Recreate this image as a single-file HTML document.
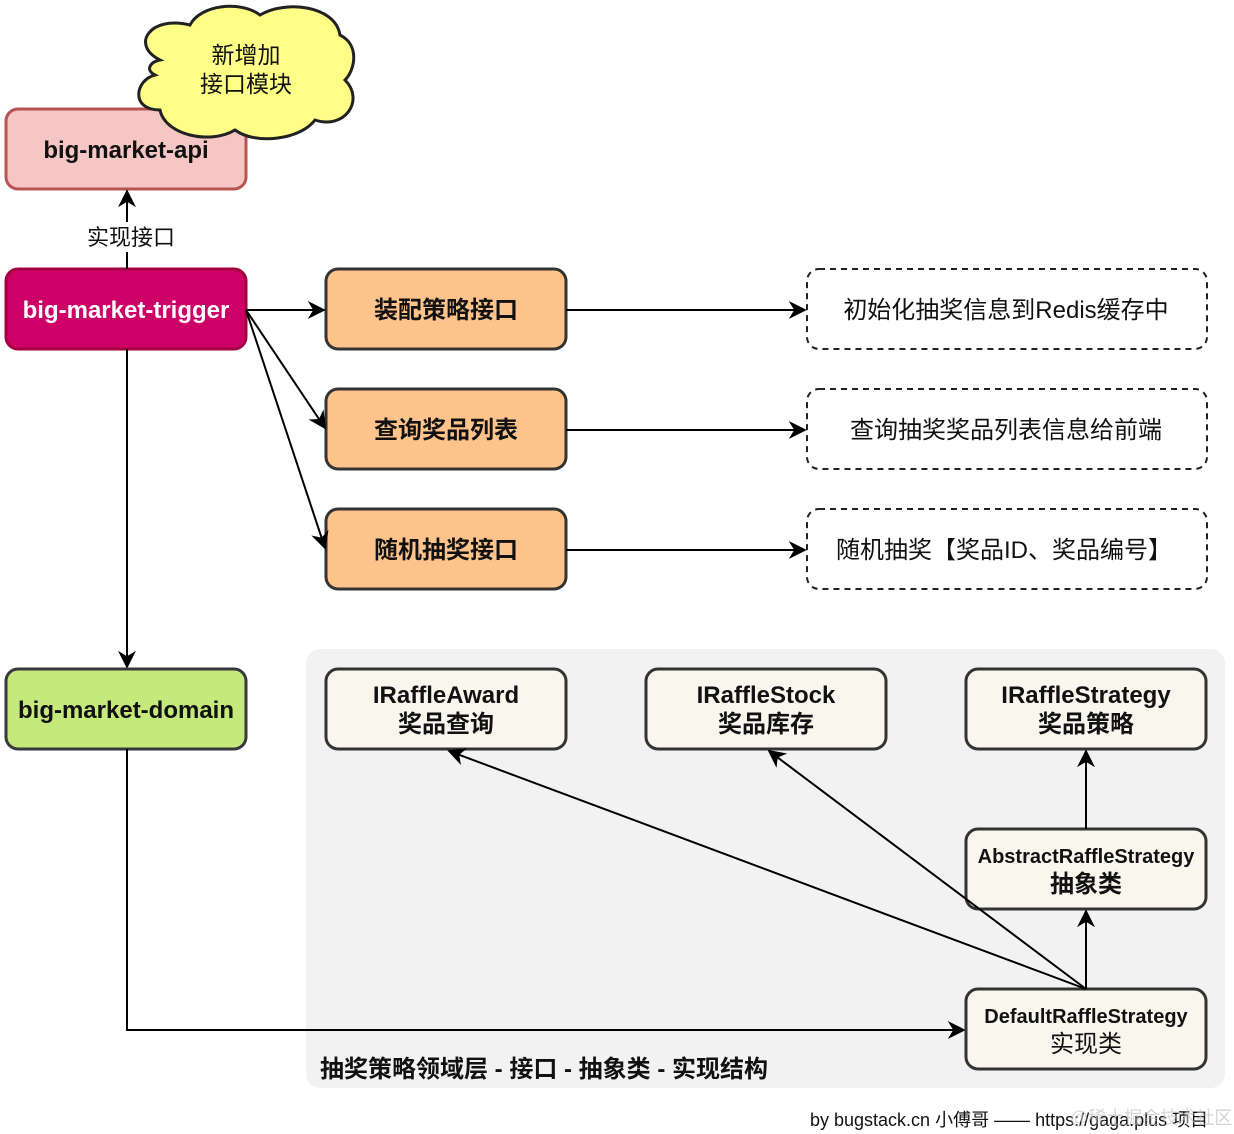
<!DOCTYPE html>
<html><head><meta charset="utf-8"><style>
html,body{margin:0;padding:0;background:#fff;}
svg{display:block;}
text{font-family:"Liberation Sans","Noto Sans CJK SC",sans-serif;}
</style></head><body>
<svg width="1234" height="1134" viewBox="0 0 1234 1134" xmlns="http://www.w3.org/2000/svg">
<defs>
<marker id="b" viewBox="0 0 10 10" refX="9" refY="5" markerWidth="18" markerHeight="18" orient="auto" markerUnits="userSpaceOnUse">
<path d="M0,0 L10,5 L0,10 L3,5 z" fill="#000"/></marker>
</defs>
<rect x="306" y="649" width="919" height="439" rx="14" fill="#f2f2f2"/>
<rect x="6" y="109" width="240" height="80" rx="12" fill="#f5c6c4" stroke="#b85450" stroke-width="3"/>
<text x="126" y="158" font-size="24" font-weight="bold" text-anchor="middle" fill="#111">big-market-api</text>
<path d="M160,60 C130,45 150,15 190,25 C200,5 240,0 260,15 C285,0 335,5 340,35 C360,45 355,70 345,80 C365,100 345,130 315,120 C300,140 255,145 235,130 C210,145 165,135 160,110 C130,110 135,80 155,75 C145,70 150,62 160,60 Z" fill="#ffff88" stroke="#222" stroke-width="3"/>
<text x="246" y="63" font-size="23" text-anchor="middle" fill="#111">新增加</text>
<text x="246" y="92" font-size="23" text-anchor="middle" fill="#111">接口模块</text>
<rect x="6" y="269" width="240" height="80" rx="12" fill="#cc0066" stroke="#a50040" stroke-width="3"/>
<text x="126" y="318" font-size="24" font-weight="bold" text-anchor="middle" fill="#fff">big-market-trigger</text>
<line x1="127" y1="269" x2="127" y2="252" stroke="#000" stroke-width="2"/>
<line x1="127" y1="222" x2="127" y2="191" stroke="#000" stroke-width="2" marker-end="url(#b)"/>
<text x="131" y="245" font-size="22" text-anchor="middle" fill="#111">实现接口</text>
<g stroke="#333" stroke-width="3" fill="#fdc38a">
<rect x="326" y="269" width="240" height="80" rx="12"/>
<rect x="326" y="389" width="240" height="80" rx="12"/>
<rect x="326" y="509" width="240" height="80" rx="12"/>
</g>
<g font-size="24" font-weight="bold" text-anchor="middle" fill="#111">
<text x="446" y="318">装配策略接口</text>
<text x="446" y="438">查询奖品列表</text>
<text x="446" y="558">随机抽奖接口</text>
</g>
<g stroke="#000" stroke-width="2" fill="none">
<line x1="246" y1="310" x2="324" y2="310" marker-end="url(#b)"/>
<line x1="246" y1="310" x2="325" y2="428" marker-end="url(#b)"/>
<line x1="246" y1="310" x2="325" y2="548" marker-end="url(#b)"/>
<line x1="566" y1="310" x2="805" y2="310" marker-end="url(#b)"/>
<line x1="566" y1="430" x2="805" y2="430" marker-end="url(#b)"/>
<line x1="566" y1="550" x2="805" y2="550" marker-end="url(#b)"/>
</g>
<g stroke="#222" stroke-width="2" fill="none" stroke-dasharray="6,5">
<rect x="807" y="269" width="400" height="80" rx="12"/>
<rect x="807" y="389" width="400" height="80" rx="12"/>
<rect x="807" y="509" width="400" height="80" rx="12"/>
</g>
<g font-size="24" text-anchor="middle" fill="#111">
<text x="1006" y="318">初始化抽奖信息到Redis缓存中</text>
<text x="1006" y="438">查询抽奖奖品列表信息给前端</text>
<text x="1004" y="558">随机抽奖【奖品ID、奖品编号】</text>
</g>
<line x1="127" y1="349" x2="127" y2="667" stroke="#000" stroke-width="2" marker-end="url(#b)"/>
<rect x="6" y="669" width="240" height="80" rx="12" fill="#c6e97c" stroke="#36393d" stroke-width="3"/>
<text x="126" y="718" font-size="24" font-weight="bold" text-anchor="middle" fill="#111">big-market-domain</text>
<polyline points="127,749 127,1030 964,1030" fill="none" stroke="#000" stroke-width="2" marker-end="url(#b)"/>
<g stroke="#333" stroke-width="3" fill="#f9f7ed">
<rect x="326" y="669" width="240" height="80" rx="12"/>
<rect x="646" y="669" width="240" height="80" rx="12"/>
<rect x="966" y="669" width="240" height="80" rx="12"/>
<rect x="966" y="829" width="240" height="80" rx="12"/>
<rect x="966" y="989" width="240" height="80" rx="12"/>
</g>
<g font-size="24" font-weight="bold" text-anchor="middle" fill="#111">
<text x="446" y="703">IRaffleAward</text><text x="446" y="732">奖品查询</text>
<text x="766" y="703">IRaffleStock</text><text x="766" y="732">奖品库存</text>
<text x="1086" y="703">IRaffleStrategy</text><text x="1086" y="732">奖品策略</text>
<text x="1086" y="863" font-size="20">AbstractRaffleStrategy</text><text x="1086" y="892">抽象类</text>
<text x="1086" y="1023" font-size="20">DefaultRaffleStrategy</text><text x="1086" y="1052" font-weight="normal">实现类</text>
</g>
<g stroke="#000" stroke-width="2" fill="none">
<line x1="1086" y1="989" x2="1086" y2="911" marker-end="url(#b)"/>
<line x1="1086" y1="829" x2="1086" y2="751" marker-end="url(#b)"/>
<line x1="1086" y1="989" x2="449" y2="751" marker-end="url(#b)"/>
<line x1="1086" y1="989" x2="769" y2="751" marker-end="url(#b)"/>
</g>
<text x="320" y="1077" font-size="24" font-weight="bold" fill="#111">抽奖策略领域层 - 接口 - 抽象类 - 实现结构</text>
<text x="810" y="1126" font-size="18" fill="#111">by bugstack.cn 小傅哥 —— https://gaga.plus 项目</text>
<text x="1070" y="1124" font-size="18" fill="#bbb" opacity="0.6">@稀土掘金技术社区</text>
</svg>
</body></html>
